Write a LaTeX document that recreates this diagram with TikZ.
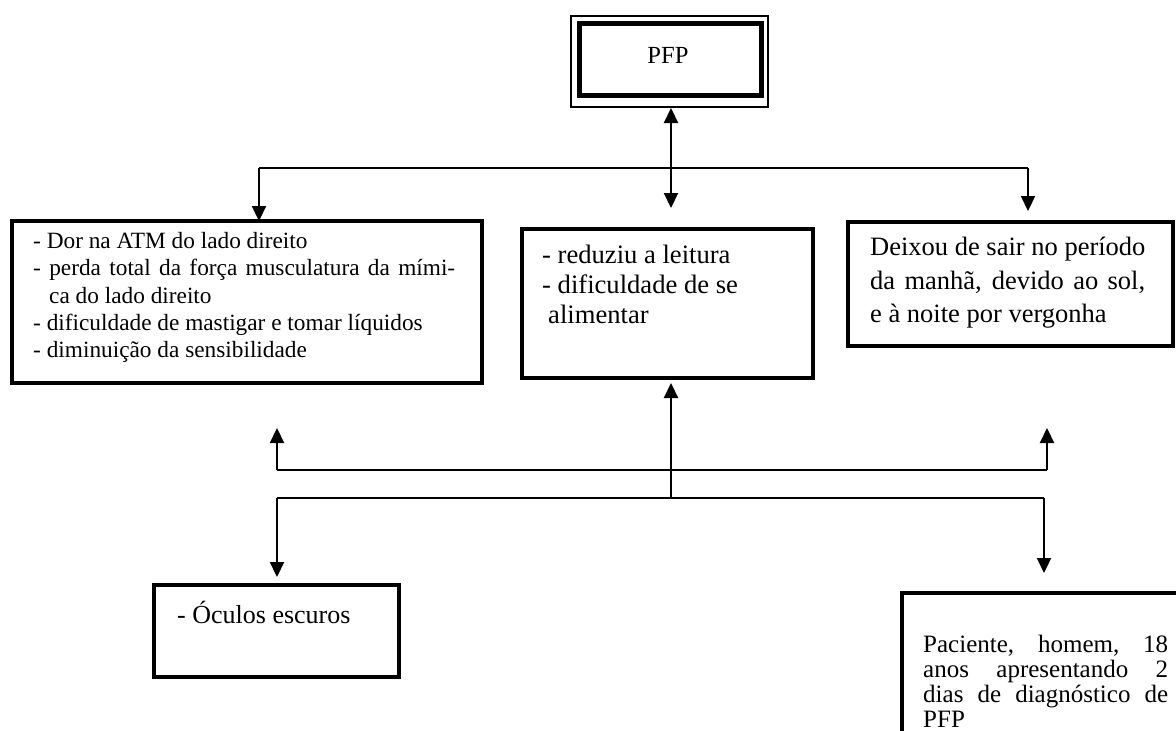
\documentclass[tikz,border=0pt]{standalone}
\usepackage{fontspec}
\setmainfont{Liberation Serif}
\usetikzlibrary{arrows.meta}
\tikzset{
  boxthick/.style={draw, line width=4.5pt, anchor=north west, inner sep=0pt, outer sep=0pt},
  pfpouter/.style={draw, line width=1.4pt, anchor=north west, inner sep=0pt, outer sep=0pt},
  ln/.style={line width=2.2pt},
  tipA/.style={-{Triangle[width=14pt,length=15pt]}},
  tipB/.style={{Triangle[width=14pt,length=15pt]}-{Triangle[width=14pt,length=15pt]}},
  txtL/.style={anchor=base west, inner sep=0pt, font=\fontsize{23.3}{27}\selectfont},
  txtM/.style={anchor=base west, inner sep=0pt, font=\fontsize{26.6}{31}\selectfont},
  txtB/.style={anchor=base west, inner sep=0pt, font=\fontsize{25}{28}\selectfont},
}
\begin{document}
\begin{tikzpicture}[x=1pt,y=-1pt]
\useasboundingbox (0,0) rectangle (1176,731);
\fill[white] (0,0) rectangle (1176,731);
\clip (0,0) rectangle (1176,731);

% PFP box
\node[pfpouter, minimum width=197pt, minimum height=91pt] (P) at (571,16) {};
\node[boxthick, line width=5pt, minimum width=182pt, minimum height=72pt] (Pin) at (579,23) {};
\node[anchor=base, inner sep=0pt, font=\fontsize{24.6}{28}\selectfont] (Pt) at (668,63) {PFP};

% upper boxes
\node[boxthick, minimum width=470pt, minimum height=162pt] (L) at (12,221) {};
\node[boxthick, minimum width=291pt, minimum height=149pt] (M) at (522,229) {};
\node[boxthick, minimum width=325pt, minimum height=124pt] (R) at (848,222) {};

% lower boxes
\node[boxthick, minimum width=245pt, minimum height=92pt] (O) at (154,585) {};
\node[boxthick, minimum width=300pt, minimum height=170pt] (B) at (902,593) {};

% texts left box
\node[txtL] (l1) at (33,248) {- Dor na ATM do lado direito};
\node[txtL] (l2) at (33,275) {\makebox[422pt][s]{- perda total da força musculatura da mími-}};
\node[txtL] (l3) at (49,303) {ca do lado direito};
\node[txtL] (l4) at (33,330) {- dificuldade de mastigar e tomar líquidos};
\node[txtL] (l5) at (33,357) {- diminuição da sensibilidade};

% texts middle box
\node[txtM] (m1) at (542,263) {- reduziu a leitura};
\node[txtM] (m2) at (542,293) {- dificuldade de se};
\node[txtM] (m3) at (548,323) {alimentar};

% texts right box
\node[txtM, font=\fontsize{26.5}{31}\selectfont] (r1) at (870,255) {Deixou de sair no período};
\node[txtM, font=\fontsize{26.5}{31}\selectfont] (r2) at (870,289) {\makebox[275pt][s]{da manhã, devido ao sol,}};
\node[txtM, font=\fontsize{26.5}{31}\selectfont] (r3) at (870,322) {e à noite por vergonha};

% Oculos
\node[txtM, font=\fontsize{26}{31}\selectfont] (o1) at (177,623) {- Óculos escuros};

% bottom right
\node[txtB] (b1) at (923,652) {\makebox[245pt][s]{Paciente, homem, 18}};
\node[txtB] (b2) at (923,677) {\makebox[245pt][s]{anos apresentando 2}};
\node[txtB] (b3) at (923,702) {\makebox[245pt][s]{dias de diagnóstico de}};
\node[txtB] (b4) at (923,727) {PFP};

% upper connectors
\coordinate (hL) at (259,168);
\coordinate (hR) at (1028,168);
\coordinate (tR) at (1028,211);
\coordinate (cT) at (671,108);
\coordinate (cB) at (671,208);
\draw[ln] (hL) -- (hR);
\draw[ln,tipA] (hL) -- (hL |- L.north);
\draw[ln,tipA] (hR) -- (tR);
\draw[ln,tipB] (cT) -- (cB);

% lower connectors
\coordinate (uL) at (277,470);
\coordinate (uR) at (1047,470);
\coordinate (aL) at (277,428);
\coordinate (aR) at (1047,428);
\coordinate (c0) at (671,498);
\coordinate (c1) at (671,383);
\coordinate (dL) at (277,498);
\coordinate (dR) at (1044,498);
\coordinate (eL) at (277,577);
\coordinate (eR) at (1044,573);
\draw[ln] (uL) -- (uR);
\draw[ln,tipA] (uL) -- (aL);
\draw[ln,tipA] (uR) -- (aR);
\draw[ln,tipA] (c0) -- (c1);
\draw[ln] (dL) -- (dR);
\draw[ln,tipA] (dL) -- (eL);
\draw[ln,tipA] (dR) -- (eR);
\end{tikzpicture}
\end{document}
